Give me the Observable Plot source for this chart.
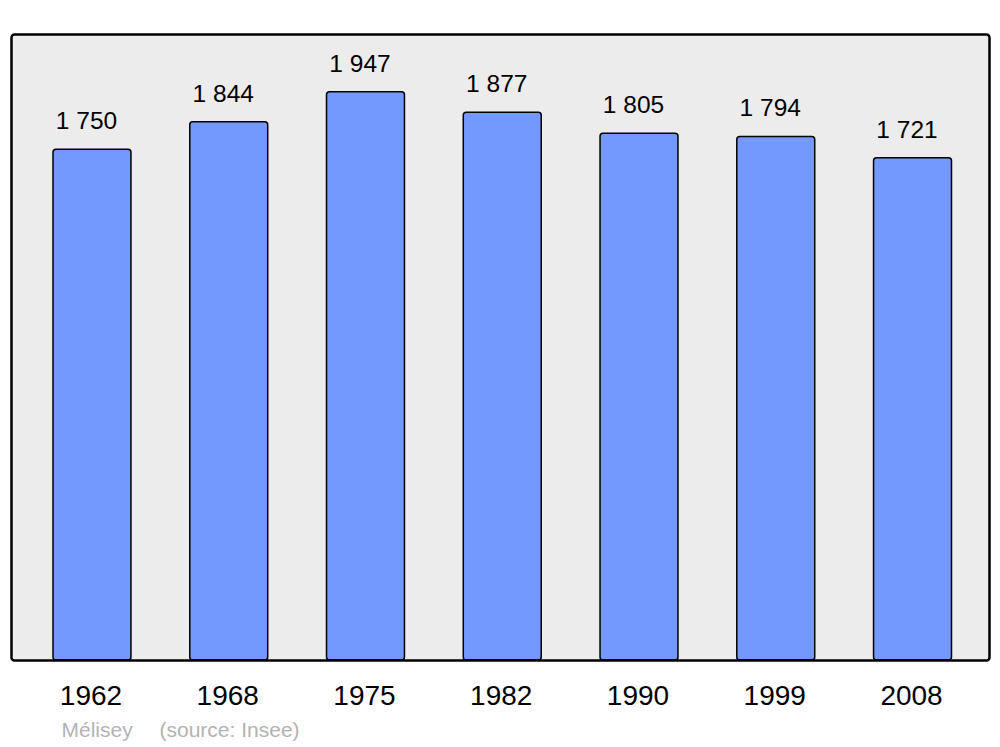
<!DOCTYPE html>
<html>
<head>
<meta charset="utf-8">
<script src="https://cdn.jsdelivr.net/npm/d3@7"></script>
<script src="https://cdn.jsdelivr.net/npm/@observablehq/plot@0.6"></script>
<style>
  html, body { margin: 0; padding: 0; background: #fff; }
  svg { display: block; }
</style>
</head>
<body>
<div id="chart"></div>
<script>
const years = ["1962", "1968", "1975", "1982", "1990", "1999", "2008"];
const population = [1750, 1844, 1947, 1877, 1805, 1794, 1721];
const commune = "Mélisey";
const source = "(source: Insee)";

const data = years.map((y, i) => ({year: y, value: population[i]}));
const fmt = v => d3.format(",")(v).replace(/,/g, "\u00a0");

const chart = Plot.plot({
  width: 1000,
  height: 747,
  marginLeft: 11,
  marginRight: 11,
  marginTop: 34,
  marginBottom: 87,
  style: {fontFamily: "'Liberation Sans', Arial, sans-serif", background: "#fff"},
  x: {domain: years, range: [23.6, 980.9], paddingInner: 0.43, paddingOuter: 0.215, round: false, label: null},
  y: {domain: [0, 2145], axis: null},
  marks: [
    Plot.frame({fill: "#ececec", stroke: "none", rx: 3}),
    Plot.barY(data, {x: "year", y: "value", fill: "#7399ff", stroke: "#000", strokeWidth: 1.5, rx: 3}),
    Plot.text(data, {x: "year", y: "value", text: d => fmt(d.value), lineAnchor: "bottom", dy: -20.5, dx: -6, fontSize: 24.5, fill: "#000"}),
    Plot.frame({fill: "none", stroke: "#000", strokeWidth: 2.5, rx: 3}),
    Plot.axisX({tickSize: 0, tickPadding: 25, dx: -1.5, fontSize: 28, fill: "#000", label: null}),
    Plot.text([commune], {frameAnchor: "bottom-left", text: d => d, textAnchor: "start", lineAnchor: "bottom", dx: 50, dy: 76, fontSize: 21, fill: "#b3b3b3"}),
    Plot.text([source], {frameAnchor: "bottom-left", text: d => d, textAnchor: "start", lineAnchor: "bottom", dx: 148, dy: 76, fontSize: 21, fill: "#b3b3b3"})
  ]
});
document.getElementById("chart").appendChild(chart);
</script>
</body>
</html>
